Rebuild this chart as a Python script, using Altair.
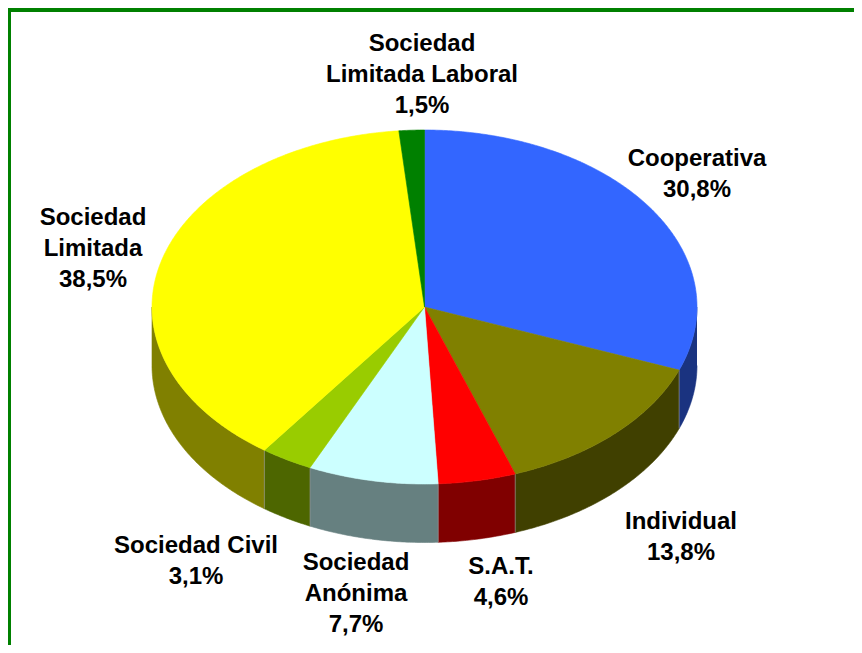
import math
import altair as alt
import pandas as pd

# ---- data ----
names = ["Cooperativa", "Individual", "S.A.T.", "Sociedad Anónima",
         "Sociedad Civil", "Sociedad Limitada", "Sociedad Limitada Laboral"]
shares = [30.8, 13.8, 4.6, 7.7, 3.1, 38.5, 1.5]
share_labels = ["30,8%", "13,8%", "4,6%", "7,7%", "3,1%", "38,5%", "1,5%"]
label_lines = [["Cooperativa"], ["Individual"], ["S.A.T."], ["Sociedad", "Anónima"],
               ["Sociedad Civil"], ["Sociedad", "Limitada"], ["Sociedad", "Limitada Laboral"]]
top_colors = ["#3366FF", "#808000", "#FF0000", "#CCFFFF", "#99CC00", "#FFFF00", "#008000"]
side_colors = ["#1A3380", "#404000", "#800000", "#668080", "#4D6600", "#808000", "#004000"]

# ---- layout (page pixels) ----
OFFSET = 8
W, H = 846, 637
CX, CY, RX, RY, DEPTH = 424.5, 307, 272.5, 177, 58.5
label_pos = [(697, 158.5), (681, 521.5), (501, 566.5), (356, 562.5), (196, 545.5), (93, 217.5), (422, 43.5)]
LINE_STEP = 31.3
GREEN = "#008000"

def pt(deg, drop=0.0):
    r = math.radians(deg)
    return CX + RX * math.sin(r), CY - RY * math.cos(r) + drop

tops, sides, edges, labels = [], [], [], []
start = 0.0
for k, (name, share) in enumerate(zip(names, shares)):
    end = start + share * 3.6
    n = max(2, int((end - start) * 2))
    arc = [start + (end - start) * j / n for j in range(n + 1)]
    order = 0
    tops.append({"slice": name, "i": order, "x": CX, "y": CY, "c": top_colors[k]})
    for a in arc:
        order += 1
        x, y = pt(a)
        tops.append({"slice": name, "i": order, "x": x, "y": y, "c": top_colors[k]})
    order += 1
    tops.append({"slice": name, "i": order, "x": CX, "y": CY, "c": top_colors[k]})
    # visible wall: the front half of the rim
    lo, hi = max(start, 90.0), min(end, 270.0)
    if lo < hi:
        m = max(2, int((hi - lo) * 2))
        vis = [lo + (hi - lo) * j / m for j in range(m + 1)]
        o = 0
        for a in vis:
            x, y = pt(a)
            sides.append({"slice": name, "i": o, "x": x, "y": y, "c": side_colors[k]})
            o += 1
        for a in reversed(vis):
            x, y = pt(a, DEPTH)
            sides.append({"slice": name, "i": o, "x": x, "y": y, "c": side_colors[k]})
            o += 1
    if 90 < end < 270:
        x, y = pt(end)
        edges.append({"x": x, "y": y, "y2": y + DEPTH})
    lx, ly = label_pos[k]
    for t in label_lines[k] + [share_labels[k]]:
        labels.append({"x": lx, "y": ly, "t": t})
        ly += LINE_STEP
    start = end

xs = alt.Scale(domain=[OFFSET, OFFSET + W], nice=False, zero=False)
ys = alt.Scale(domain=[OFFSET + H, OFFSET], nice=False, zero=False)
X = alt.X("x:Q", scale=xs, axis=None)
Y = alt.Y("y:Q", scale=ys, axis=None)

def polys(rows):
    return alt.Chart(pd.DataFrame(rows)).mark_line(
        filled=True, strokeWidth=0.6, interpolate="linear"
    ).encode(
        x=X, y=Y, order=alt.Order("i:Q"), detail="slice:N",
        fill=alt.Fill("c:N", scale=None), stroke=alt.Stroke("c:N", scale=None),
    )

wall = polys(sides)
top = polys(tops)
rules = alt.Chart(pd.DataFrame(edges)).mark_rule(color="#9a9a9a", strokeWidth=1, opacity=0.6).encode(
    x=X, y=Y, y2="y2:Q")
text = alt.Chart(pd.DataFrame(labels)).mark_text(
    font="Liberation Sans", fontWeight="bold", fontSize=24, color="#000000",
    align="center", baseline="middle"
).encode(x=X, y=Y, text="t:N")

frame_rows = [
    {"x": OFFSET, "x2": OFFSET + W, "y": OFFSET, "y2": OFFSET + 4},
    {"x": OFFSET, "x2": OFFSET + 3, "y": OFFSET, "y2": OFFSET + H},
]
frame = alt.Chart(pd.DataFrame(frame_rows)).mark_rect(color=GREEN).encode(
    x=X, x2="x2:Q", y=Y, y2="y2:Q")

chart = alt.layer(frame, wall, rules, top, text).properties(
    width=W, height=H, padding=0, autosize=alt.AutoSizeParams(type="none"),
    background="white"
).configure_view(stroke=None)

chart.save("out.html", embed_options={"renderer": "svg", "actions": False})
